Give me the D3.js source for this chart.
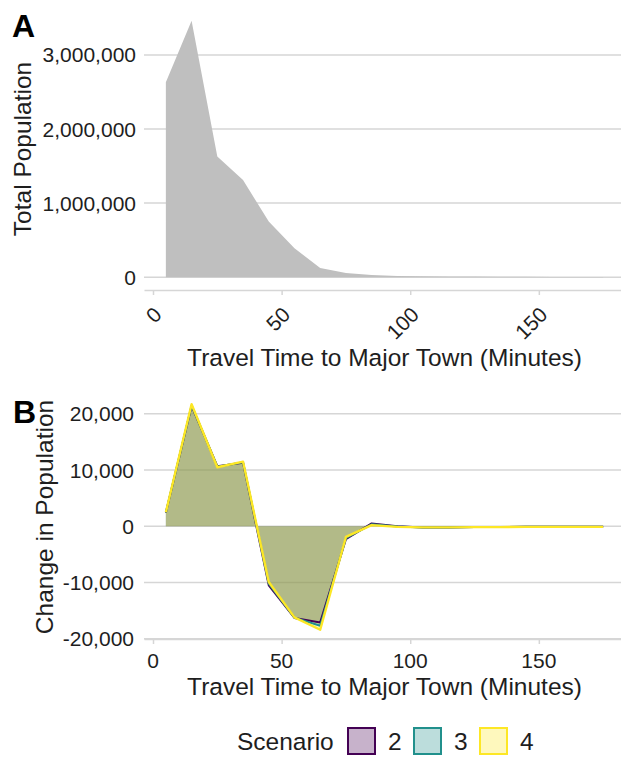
<!DOCTYPE html>
<html>
<head>
<meta charset="utf-8">
<script src="https://cdn.jsdelivr.net/npm/d3@7"></script>
<style>
  html, body { margin: 0; padding: 0; background: #fff; }
  svg { display: block; font-family: "Liberation Sans", Arial, sans-serif; }
</style>
</head>
<body>
<svg id="chart" width="621" height="757"></svg>
<script>
// ---- Data ----
const travelTime = [5, 15, 25, 35, 45, 55, 65, 75, 85, 95, 105, 115, 125, 135, 145, 155, 165, 175];
const totalPopulation = [2630000, 3460000, 1630000, 1310000, 750000, 390000, 125000, 58000, 30000, 16000, 12000, 10000, 8000, 6000, 5000, 4000, 3000, 2500];
const scenarios = ["2", "3", "4"];
const change2 = [2400, 21400, 10700, 11300, -10500, -16300, -17100, -2300, 500, 0, -200, -200, -150, -150, -100, -100, -100, -100];
const change3 = [2450, 21500, 10600, 11400, -10200, -16250, -17700, -2100, 350, -50, -200, -200, -150, -150, -100, -100, -100, -100];
const change4 = [2500, 21700, 10500, 11500, -9900, -16200, -18400, -1900, 200, -100, -200, -200, -150, -150, -100, -100, -100, -100];
const scenarioColors = ["#440154", "#21908C", "#FDE725"];
const xTicks = [0, 50, 100, 150];
const yTicksA = [0, 1000000, 2000000, 3000000];
const yTicksB = [-20000, -10000, 0, 10000, 20000];

const svg = d3.select("#chart");
const fmt = d3.formatLocale({ decimal: ".", thousands: ",", grouping: [3], currency: ["$", ""], minus: "-" }).format(",");
const gridColor = "#d6d6d6";
const textColor = "#1e1e1e";
const tickFont = 21;
const titleFont = 24.5;

function expand(ext, m = 0.05) {
  const r = ext[1] - ext[0];
  return [ext[0] - r * m, ext[1] + r * m];
}

const panelLeft = 144, panelRight = 625;
const x = d3.scaleLinear().domain(expand(d3.extent(travelTime))).range([panelLeft, panelRight]);

// ---- Panel A ----
const yA = d3.scaleLinear().domain(expand([0, d3.max(totalPopulation)])).range([290, 8]);
const gA = svg.append("g");
gA.selectAll("line.grid").data(yTicksA).join("line")
  .attr("x1", panelLeft).attr("x2", panelRight)
  .attr("y1", d => yA(d)).attr("y2", d => yA(d))
  .attr("stroke", gridColor).attr("stroke-width", 1.5);
const ptsA = travelTime.map((t, i) => ({ t, v: totalPopulation[i] }));
gA.append("path").datum(ptsA)
  .attr("fill", "#bfbfbf")
  .attr("d", d3.area().x(d => x(d.t)).y0(yA(0)).y1(d => yA(d.v)));

const axA = gA.append("g").attr("transform", `translate(0,${yA.range()[0]})`)
  .call(d3.axisBottom(x).tickValues(xTicks).tickSize(5).tickSizeOuter(0).tickFormat(""));
axA.select(".domain").attr("stroke", gridColor).attr("stroke-width", 1.5);
axA.selectAll(".tick line").attr("stroke", gridColor).attr("stroke-width", 1.5);
gA.selectAll("text.xt").data(xTicks).join("text")
  .attr("transform", d => `translate(${x(d) + 10},316) rotate(-45)`)
  .attr("text-anchor", "end").attr("font-size", tickFont).attr("fill", textColor)
  .text(d => d);

gA.selectAll("text.yt").data(yTicksA).join("text")
  .attr("x", 136).attr("y", d => yA(d)).attr("dy", "0.36em")
  .attr("text-anchor", "end").attr("font-size", tickFont).attr("fill", textColor)
  .text(d => fmt(d));

gA.append("text").attr("transform", "translate(31,149) rotate(-90)")
  .attr("text-anchor", "middle").attr("font-size", titleFont).attr("fill", textColor)
  .text("Total Population");
gA.append("text").attr("x", (panelLeft + panelRight) / 2).attr("y", 366)
  .attr("text-anchor", "middle").attr("font-size", titleFont).attr("fill", textColor)
  .text("Travel Time to Major Town (Minutes)");
svg.append("text").attr("x", 12).attr("y", 37).attr("font-size", 32).attr("font-weight", "bold")
  .attr("fill", "#000").text("A");

// ---- Panel B ----
const series = [change2, change3, change4];
const allB = series.flat();
const yB = d3.scaleLinear().domain(expand(d3.extent(allB))).range([641, 393]);
const gB = svg.append("g");
gB.selectAll("line.grid").data(yTicksB).join("line")
  .attr("x1", panelLeft).attr("x2", panelRight)
  .attr("y1", d => yB(d)).attr("y2", d => yB(d))
  .attr("stroke", gridColor).attr("stroke-width", 1.5);

series.forEach((vals, k) => {
  const pts = travelTime.map((t, i) => ({ t, v: vals[i] }));
  gB.append("path").datum(pts)
    .attr("fill", scenarioColors[k]).attr("fill-opacity", 0.31)
    .attr("d", d3.area().x(d => x(d.t)).y0(yB(0)).y1(d => yB(d.v)));
});
series.forEach((vals, k) => {
  const pts = travelTime.map((t, i) => ({ t, v: vals[i] }));
  gB.append("path").datum(pts)
    .attr("fill", "none").attr("stroke", scenarioColors[k]).attr("stroke-width", k === 2 ? 2.4 : 2)
    .attr("stroke-linejoin", "round")
    .attr("d", d3.line().x(d => x(d.t)).y(d => yB(d.v)));
});

const axB = gB.append("g").attr("transform", `translate(0,${yB.range()[0] - 2})`)
  .call(d3.axisBottom(x).tickValues(xTicks).tickSize(5).tickSizeOuter(0).tickFormat(""));
axB.select(".domain").attr("stroke", gridColor).attr("stroke-width", 1.5);
axB.selectAll(".tick line").attr("stroke", gridColor).attr("stroke-width", 1.5);
gB.selectAll("text.xt").data(xTicks).join("text")
  .attr("x", d => x(d)).attr("y", 668)
  .attr("text-anchor", "middle").attr("font-size", tickFont).attr("fill", textColor)
  .text(d => d);
gB.selectAll("text.yt").data(yTicksB).join("text")
  .attr("x", 134).attr("y", d => yB(d)).attr("dy", "0.36em")
  .attr("text-anchor", "end").attr("font-size", tickFont).attr("fill", textColor)
  .text(d => fmt(d));
gB.append("text").attr("transform", "translate(53,517) rotate(-90)")
  .attr("text-anchor", "middle").attr("font-size", titleFont).attr("fill", textColor)
  .text("Change in Population");
gB.append("text").attr("x", (panelLeft + panelRight) / 2).attr("y", 695)
  .attr("text-anchor", "middle").attr("font-size", titleFont).attr("fill", textColor)
  .text("Travel Time to Major Town (Minutes)");
svg.append("text").attr("x", 13).attr("y", 423).attr("font-size", 32).attr("font-weight", "bold")
  .attr("fill", "#000").text("B");

// ---- Legend ----
const lg = svg.append("g");
lg.append("text").attr("x", 237).attr("y", 750).attr("font-size", titleFont).attr("fill", textColor).text("Scenario");
const keyX = [347, 413, 479];
scenarios.forEach((s, k) => {
  lg.append("rect").attr("x", keyX[k] + 1).attr("y", 728).attr("width", 27).attr("height", 26)
    .attr("fill", scenarioColors[k]).attr("fill-opacity", 0.3)
    .attr("stroke", scenarioColors[k]).attr("stroke-width", 2);
  lg.append("text").attr("x", keyX[k] + 41).attr("y", 750).attr("font-size", titleFont).attr("fill", textColor).text(s);
});
</script>
</body>
</html>
